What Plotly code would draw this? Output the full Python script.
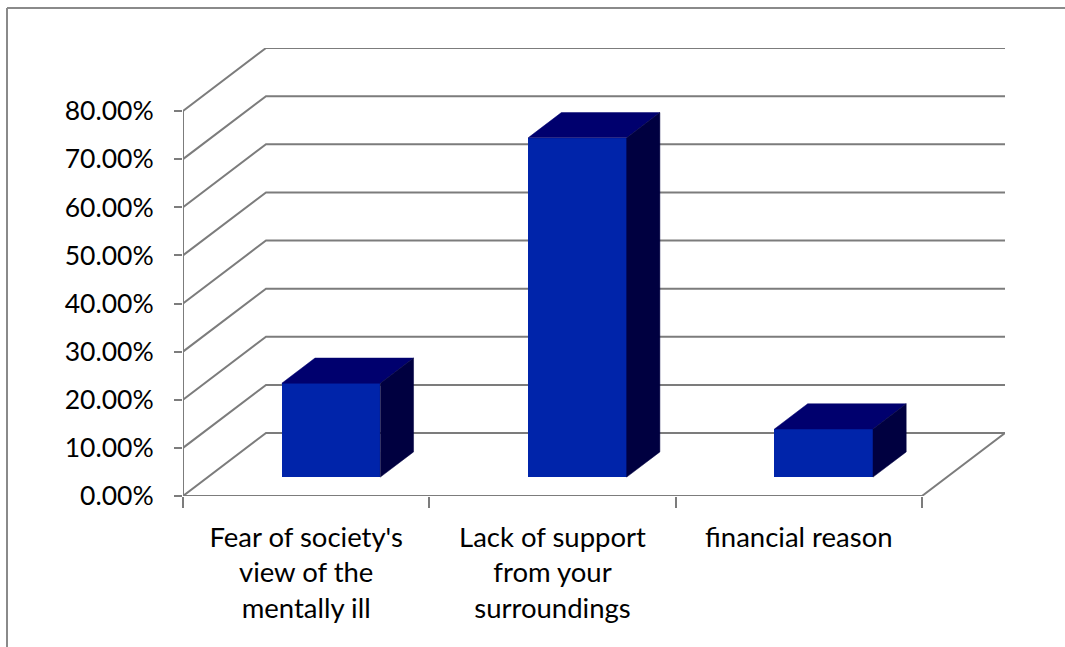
import plotly.graph_objects as go

# Data
categories = ["Fear of society's<br>view of the<br>mentally ill",
              "Lack of support<br>from your<br>surroundings",
              "financial reason"]
values = [19.5, 70.5, 10.0]          # percent
tick_values = [0, 10, 20, 30, 40, 50, 60, 70, 80]
tick_labels = [f"{v:.2f}%" for v in tick_values]

# 3D projection settings (in axis units)
DEPTH_X = 0.337        # horizontal shift of the back wall, in category units
DEPTH_Y = 13.09        # vertical shift of the back wall, in percent units
BAR_WIDTH = 0.40
BAR_FRONT = 0.30       # depth fraction of bar front face
BAR_DEPTH = 0.40       # depth fraction occupied by bar

GRID_COLOR = "#7c7c7c"
FRONT_COLOR = "#0024AA"
TOP_COLOR = "#00006E"
SIDE_COLOR = "#000040"

n = len(categories)
x_left, x_right = -0.5, n - 0.5

W, H = 1065, 647
L, R, T, B = 183, 1005, 48, 496
plot_w, plot_h = R - L, B - T
y_top = plot_h / ((B - 111) / 80.0)


def px_to_paper_x(px):
    return (px - L) / plot_w


def px_to_paper_y(py):
    return (B - py) / plot_h


def polyline(xs, ys):
    return "M " + " L ".join(f"{x},{y}" for x, y in zip(xs, ys))


shapes = []

# back wall gridlines with their diagonal connectors to the front axis
for t in tick_values:
    xs = [x_left, x_left + DEPTH_X, x_right + DEPTH_X]
    ys = [t, t + DEPTH_Y, t + DEPTH_Y]
    if t == 0:
        xs += [x_right, x_left]
        ys += [0, 0]
    shapes.append(dict(type="path", xref="x", yref="y", path=polyline(xs, ys),
                       line=dict(color=GRID_COLOR, width=2), layer="below"))

# front value axis line
shapes.append(dict(type="line", xref="x", yref="y",
                   x0=x_left, x1=x_left, y0=0, y1=tick_values[-1],
                   line=dict(color=GRID_COLOR, width=2), layer="below"))

# chart frame (left and top edges)
shapes.append(dict(type="line", xref="paper", yref="paper",
                   x0=px_to_paper_x(7), x1=px_to_paper_x(7),
                   y0=px_to_paper_y(H), y1=px_to_paper_y(8),
                   line=dict(color="#8a8a8a", width=2), layer="below"))
shapes.append(dict(type="line", xref="paper", yref="paper",
                   x0=px_to_paper_x(7), x1=px_to_paper_x(W),
                   y0=px_to_paper_y(8), y1=px_to_paper_y(8),
                   line=dict(color="#8a8a8a", width=2), layer="below"))

fig = go.Figure()

# bar front faces
base = BAR_FRONT * DEPTH_Y
shift_x = BAR_FRONT * DEPTH_X
fig.add_trace(go.Bar(
    x=[i + shift_x for i in range(n)], y=values, base=[base] * n,
    width=BAR_WIDTH, marker=dict(color=FRONT_COLOR, line=dict(width=0)),
    hoverinfo="skip", showlegend=False))

# bar top and side faces
dxb = BAR_DEPTH * DEPTH_X
dyb = BAR_DEPTH * DEPTH_Y
for i, v in enumerate(values):
    x0 = i + shift_x - BAR_WIDTH / 2
    x1 = i + shift_x + BAR_WIDTH / 2
    fig.add_trace(go.Scatter(
        x=[x0, x1, x1 + dxb, x0 + dxb, x0],
        y=[v + base, v + base, v + base + dyb, v + base + dyb, v + base],
        mode="lines", fill="toself", fillcolor=TOP_COLOR,
        line=dict(color=TOP_COLOR, width=0.5),
        hoverinfo="skip", showlegend=False))
    fig.add_trace(go.Scatter(
        x=[x1, x1, x1 + dxb, x1 + dxb, x1],
        y=[base, v + base, v + base + dyb, base + dyb, base],
        mode="lines", fill="toself", fillcolor=SIDE_COLOR,
        line=dict(color=SIDE_COLOR, width=0.5),
        hoverinfo="skip", showlegend=False))

fig.update_layout(
    width=W, height=H,
    margin=dict(l=L, r=W - R, t=T, b=H - B),
    paper_bgcolor="white", plot_bgcolor="rgba(0,0,0,0)",
    font=dict(family="Lato, Carlito, Calibri, sans-serif", color="#000000"),
    bargap=0,
    xaxis=dict(
        range=[x_left, x_left + plot_w / ((922 - L) / n)],
        tickvals=list(range(n)), ticktext=categories,
        ticks="", showgrid=False, zeroline=False, showline=False,
        tickfont=dict(size=27.5), ticklabelstandoff=22,
        minor=dict(tickvals=[x_left + k for k in range(n + 1)], ticks="outside",
                   ticklen=11, tickwidth=2, tickcolor=GRID_COLOR, showgrid=False),
    ),
    yaxis=dict(
        range=[0, y_top],
        tickvals=tick_values, ticktext=tick_labels,
        ticks="outside", ticklen=8, tickwidth=2, tickcolor=GRID_COLOR,
        showgrid=False, zeroline=False, showline=False,
        tickfont=dict(size=26.5), ticklabelstandoff=15,
    ),
    shapes=shapes,
)

fig.write_html("out.html")
